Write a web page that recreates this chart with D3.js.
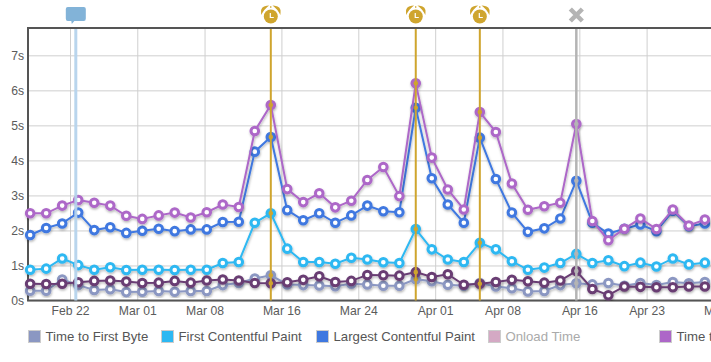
<!DOCTYPE html>
<html lang="en">
<head>
  <meta charset="UTF-8">
  <title>Page speed timings</title>
  <script src="https://d3js.org/d3.v7.min.js"></script>
  <style>
    html, body {
      margin: 0;
      padding: 0;
      background: #fff;
      overflow: hidden;
    }
    svg {
      display: block;
      font-family: "Liberation Sans", Arial, sans-serif;
    }
    .tick text {
      font-size: 12.2px;
      fill: #5b5b5b;
    }
    .legend text {
      font-size: 13.2px;
      fill: #555;
    }
  </style>
</head>
<body>
  <div id="chart"></div>

  <script>
    // sample times, roughly one every 40 hours
    const dates = [
      "02-17T18", "02-19T10", "02-21T02", "02-22T18", "02-24T10", "02-26T02", "02-27T18",
      "03-01T10", "03-03T03", "03-04T19", "03-06T11", "03-08T03", "03-09T19", "03-11T11",
      "03-13T03", "03-14T19", "03-16T12", "03-18T04", "03-19T20", "03-21T12", "03-23T04",
      "03-24T20", "03-26T12", "03-28T04", "03-29T21", "03-31T13", "04-02T05", "04-03T21",
      "04-05T13", "04-07T05", "04-08T21", "04-10T13", "04-12T06", "04-13T22", "04-15T14",
      "04-17T06", "04-18T22", "04-20T14", "04-22T06", "04-23T22", "04-25T15", "04-27T07",
      "04-28T23"
    ];

    const ttfb = [0.28, 0.28, 0.60, 0.44, 0.30, 0.32, 0.24, 0.25, 0.27, 0.25, 0.27, 0.27, 0.44, 0.50,
      0.63, 0.72, 0.46, 0.44, 0.43, 0.41, 0.48, 0.46, 0.42, 0.42, 0.61, 0.55, 0.45, 0.42,
      0.50, 0.40, 0.35, 0.26, 0.27, 0.44, 0.49, 0.46, 0.50, 0.42, 0.50, 0.44, 0.53, 0.49, 0.53];

    const fcp = [0.88, 0.91, 1.20, 1.01, 0.88, 0.95, 0.87, 0.88, 0.88, 0.87, 0.88, 0.88, 1.07, 1.10,
      2.22, 2.49, 1.48, 1.10, 1.10, 1.05, 1.22, 1.17, 1.09, 1.07, 2.04, 1.46, 1.17, 1.10,
      1.65, 1.46, 1.12, 0.88, 0.94, 1.07, 1.33, 1.07, 1.15, 0.98, 1.08, 0.97, 1.20, 1.03, 1.08];

    const lcp = [1.87, 2.07, 2.20, 2.51, 2.01, 2.09, 1.93, 1.99, 2.05, 1.98, 2.03, 2.03, 2.24, 2.25,
      4.25, 4.67, 2.58, 2.29, 2.49, 2.22, 2.43, 2.71, 2.55, 2.52, 5.50, 3.49, 2.74, 2.22,
      4.65, 3.47, 2.51, 1.96, 2.06, 2.34, 3.42, 2.22, 1.91, 2.05, 2.17, 1.98, 2.56, 2.12, 2.20];

    const timeToInteractive = [2.49, 2.49, 2.71, 2.87, 2.79, 2.71, 2.42, 2.33, 2.43, 2.51, 2.37, 2.52, 2.74, 2.67,
      4.84, 5.58, 3.18, 2.81, 3.06, 2.66, 2.85, 3.44, 3.81, 2.98, 6.20, 4.08, 3.17, 2.60,
      5.38, 4.81, 3.34, 2.59, 2.69, 2.79, 5.04, 2.27, 1.72, 2.05, 2.34, 2.04, 2.60, 2.14, 2.31];

    const blockingTime = [0.48, 0.47, 0.48, 0.52, 0.56, 0.57, 0.54, 0.50, 0.51, 0.56, 0.51, 0.57, 0.60, 0.57,
      0.50, 0.49, 0.52, 0.59, 0.69, 0.53, 0.56, 0.73, 0.72, 0.71, 0.81, 0.67, 0.75, 0.45,
      0.48, 0.53, 0.59, 0.55, 0.51, 0.57, 0.84, 0.33, 0.15, 0.40, 0.39, 0.38, 0.38, 0.40, 0.40];

    const seriesList = [
      {values: ttfb, color: "#8b97c2"},
      {values: fcp, color: "#2db8f2"},
      {values: lcp, color: "#3f78e0"},
      {values: timeToInteractive, color: "#ad67c8"},
      {values: blockingTime, color: "#693d73"}
    ];

    const yTicks = [0, 1, 2, 3, 4, 5, 6, 7];
    const xTicks = ["02-22", "03-01", "03-08", "03-16", "03-24", "04-01", "04-08", "04-16", "04-23", "05-01"];

    const legendItems = ["Time to First Byte", "First Contentful Paint", "Largest Contentful Paint", "Onload Time", "Time to Interactive"];
    const legendColors = ["#8b97c2", "#2db8f2", "#3f78e0", "#d4a9c4", "#ad67c8"];
    const legendMuted = [false, false, false, true, false];

    const alarmDates = ["03-14T19", "03-29T21", "04-05T13"];
    const crossDates = ["04-15T14"];
    const noteDates = ["02-22T12"];

    const parseDay = s => new Date(`2021-${s.length > 5 ? s + ":00" : s + "T00:00"}:00Z`);

    const width = 711, height = 362;
    const margin = {top: 28, left: 28, bottom: 300.5};
    const plotRight = 740;

    const svg = d3.select("#chart").append("svg")
      .attr("width", width)
      .attr("height", height);

    const defs = svg.append("defs");
    defs.append("filter").attr("id", "shade")
      .attr("x", "-5%").attr("y", "-5%").attr("width", "110%").attr("height", "110%")
      .append("feDropShadow")
      .attr("dx", 0.5).attr("dy", 1.5).attr("stdDeviation", 0.8)
      .attr("flood-color", "#000").attr("flood-opacity", 0.3);

    const x = d3.scaleUtc()
      .domain([parseDay("02-22"), parseDay("04-23")])
      .range([71, 647.6]);

    const y = d3.scaleLinear()
      .domain([0, 7.78])
      .range([margin.bottom, margin.top]);

    // grid
    const xAxis = d3.axisBottom(x)
      .tickValues(xTicks.map(parseDay))
      .tickFormat(d3.utcFormat("%b %d"))
      .tickSize(-(margin.bottom - margin.top))
      .tickPadding(6)
      .offset(-0.5);

    const yAxis = d3.axisLeft(y)
      .tickValues(yTicks)
      .tickFormat(d => `${d}s`)
      .tickSize(-(plotRight - margin.left))
      .tickPadding(4);

    const gx = svg.append("g").attr("transform", `translate(0,${margin.bottom})`).call(xAxis);
    const gy = svg.append("g").attr("transform", `translate(${margin.left},0)`).call(yAxis);
    gx.select(".domain").remove();
    gy.select(".domain").remove();
    svg.selectAll(".tick line").attr("stroke", "#cfcfcf");

    // plot frame, open on the right
    svg.append("path")
      .attr("d", `M${plotRight},${margin.top} H${margin.left} V${margin.bottom} H${plotRight}`)
      .attr("fill", "none")
      .attr("stroke", "#555")
      .attr("stroke-width", 2);

    const line = d3.line()
      .x((d, i) => x(parseDay(dates[i])))
      .y(d => y(d));

    const markedColor = i => {
      if (alarmDates.includes(dates[i])) return "#cfa52e";
      if (crossDates.includes(dates[i])) return "#b4b4b4";
      return "#fff";
    };

    const groups = svg.selectAll(".series")
      .data(seriesList)
      .enter()
      .append("g")
      .attr("class", "series")
      .attr("filter", "url(#shade)");

    groups.append("path")
      .attr("d", d => line(d.values))
      .attr("fill", "none")
      .attr("stroke", d => d.color)
      .attr("stroke-width", 2);

    groups.each(function(s) {
      d3.select(this).selectAll("circle")
        .data(s.values)
        .enter()
        .append("circle")
        .attr("cx", (d, i) => x(parseDay(dates[i])))
        .attr("cy", d => y(d))
        .attr("r", 3.8)
        .attr("fill", (d, i) => markedColor(i))
        .attr("stroke", s.color)
        .attr("stroke-width", 3);
    });

    // event lines and their icons
    const events = svg.append("g");

    events.selectAll(".note")
      .data(noteDates)
      .enter()
      .append("line")
      .attr("x1", d => x(parseDay(d)))
      .attr("x2", d => x(parseDay(d)))
      .attr("y1", margin.top + 1)
      .attr("y2", margin.bottom)
      .attr("stroke", "#b5d3ec")
      .attr("stroke-opacity", 0.95)
      .attr("stroke-width", 3);

    events.selectAll(".alarm")
      .data(alarmDates)
      .enter()
      .append("line")
      .attr("x1", d => x(parseDay(d)))
      .attr("x2", d => x(parseDay(d)))
      .attr("y1", margin.top + 1)
      .attr("y2", margin.bottom)
      .attr("stroke", "#cfa52e")
      .attr("stroke-width", 2);

    events.selectAll(".cross")
      .data(crossDates)
      .enter()
      .append("line")
      .attr("x1", d => x(parseDay(d)))
      .attr("x2", d => x(parseDay(d)))
      .attr("y1", margin.top + 1)
      .attr("y2", margin.bottom)
      .attr("stroke", "#b4b4b4")
      .attr("stroke-width", 2.5);

    noteDates.forEach(d => {
      const g = svg.append("g").attr("transform", `translate(${x(parseDay(d))},14.5)`);
      g.append("path")
        .attr("d", "M-8,-7.5 H8 Q10,-7.5 10,-5.5 V4 Q10,6.5 8,6.5 H-1.5 L-4,9.5 L-4.5,6.5 H-8 Q-10,6.5 -10,4 V-5.5 Q-10,-7.5 -8,-7.5 Z")
        .attr("fill", "#82b3d8");
    });

    alarmDates.forEach(d => {
      const g = svg.append("g").attr("transform", `translate(${x(parseDay(d))},16.5)`);
      g.append("circle").attr("r", 7).attr("fill", "#cfa52e");
      g.append("path").attr("d", "M-9,-4 Q-9.5,-9.5 -4,-10 Q-7,-7.5 -9,-4 Z M9,-4 Q9.5,-9.5 4,-10 Q7,-7.5 9,-4 Z").attr("fill", "#cfa52e").attr("stroke", "#cfa52e").attr("stroke-width", 1.5);
      g.append("path").attr("d", "M-0.5,-3.5 V1 H3").attr("fill", "none").attr("stroke", "#fff").attr("stroke-width", 1.2);
      g.append("rect").attr("x", -0.5).attr("y", -10.5).attr("width", 1).attr("height", 2).attr("fill", "#cfa52e");
    });

    crossDates.forEach(d => {
      svg.append("path")
        .attr("transform", `translate(${x(parseDay(d))},15)`)
        .attr("d", "M-6,-6 L6,6 M6,-6 L-6,6")
        .attr("stroke", "#b4b4b4")
        .attr("stroke-width", 4.5);
    });

    // legend
    const legendX = [28, 161, 316, 488, 659];
    const legend = svg.selectAll(".legend")
      .data(legendItems)
      .enter()
      .append("g")
      .attr("class", "legend")
      .attr("transform", (d, i) => `translate(${legendX[i]},330)`);

    legend.append("rect")
      .attr("x", 0.5).attr("y", 0.5)
      .attr("width", 12).attr("height", 12)
      .attr("fill", (d, i) => legendColors[i])
      .attr("stroke", "#ccc");

    legend.append("text")
      .attr("x", 17.5)
      .attr("y", 11)
      .style("fill", (d, i) => legendMuted[i] ? "#aaa" : null)
      .text(d => d);
  </script>
</body>
</html>
